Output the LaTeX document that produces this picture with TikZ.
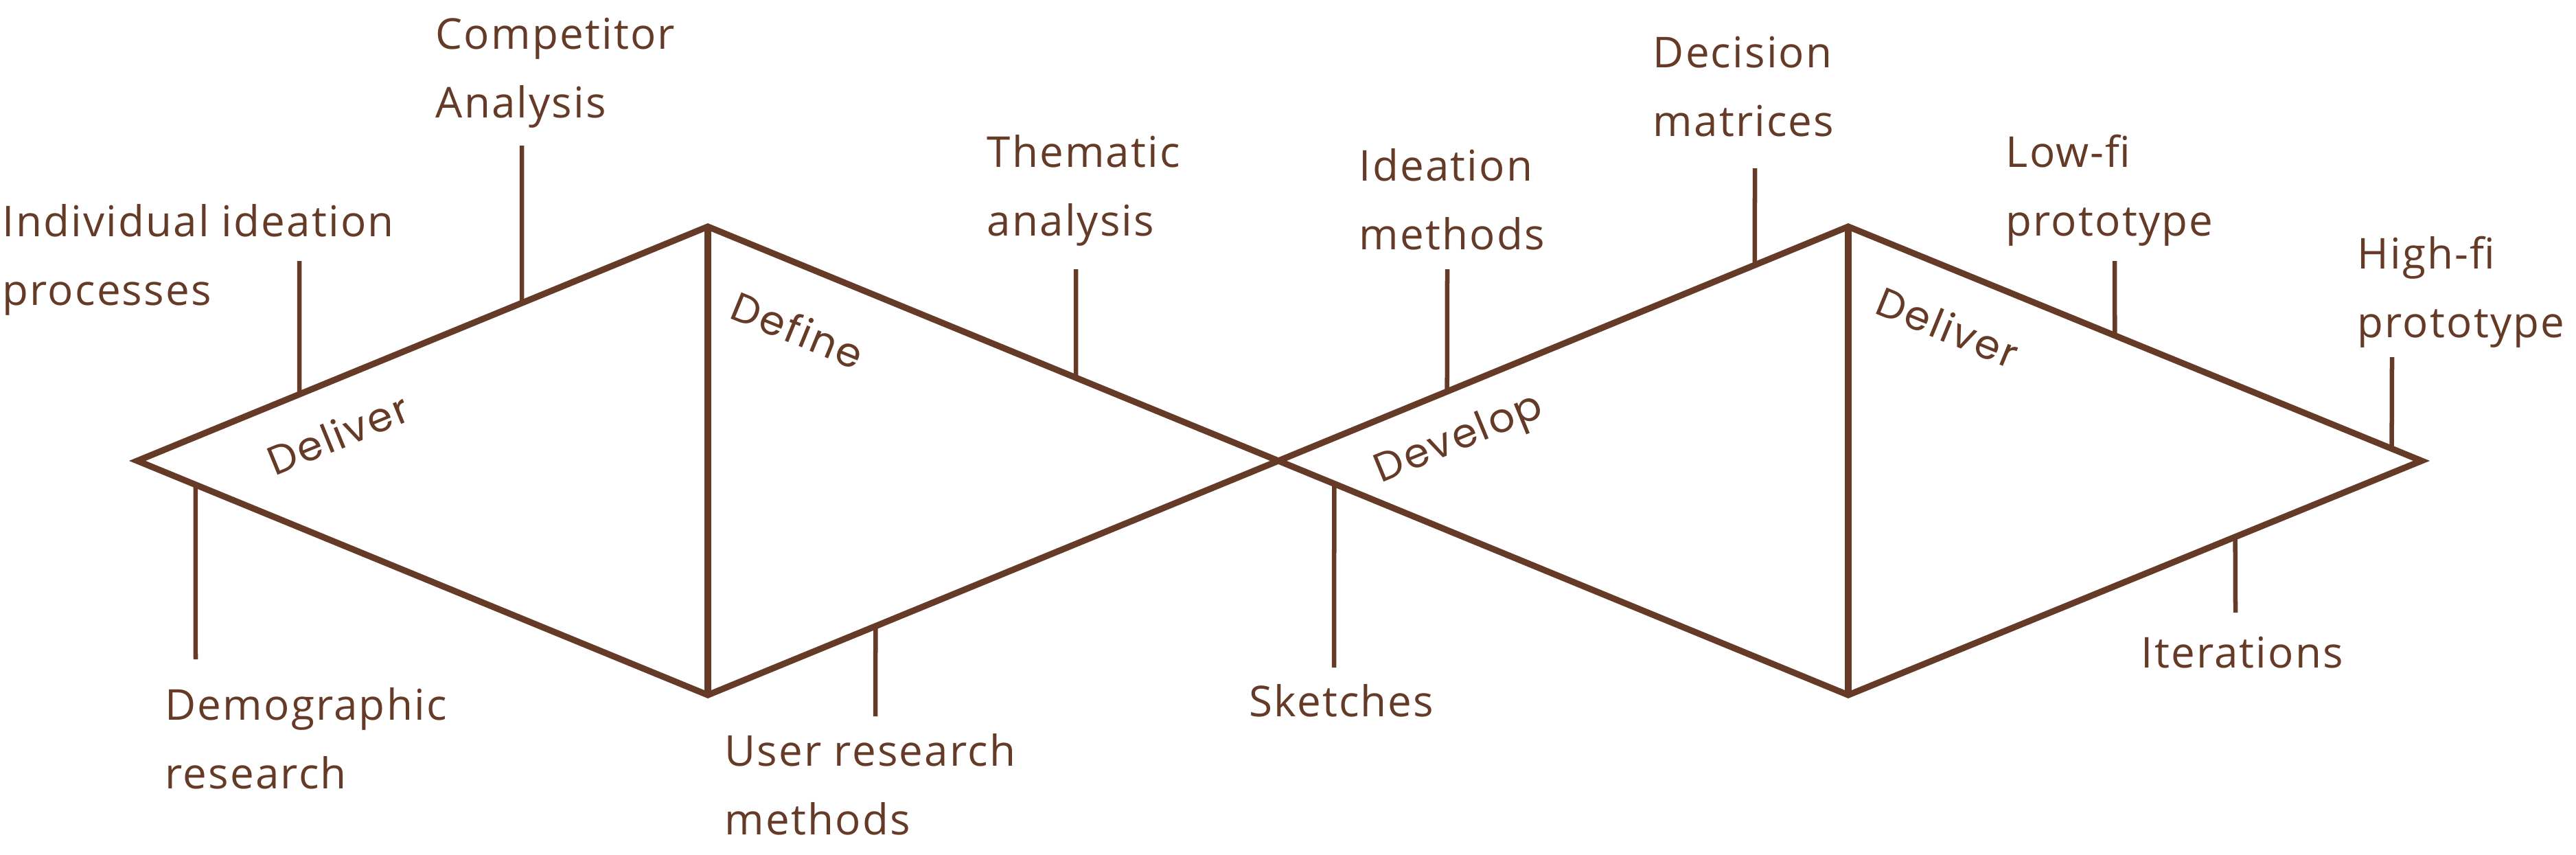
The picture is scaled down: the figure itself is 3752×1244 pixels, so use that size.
\documentclass[tikz,border=0pt]{standalone}
\usepackage{fontspec}
\setmainfont[LetterSpace=3.5]{Open Sans}
\newfontfamily\phasefont[LetterSpace=5]{Poppins}
\usetikzlibrary{calc}
\definecolor{brn}{RGB}{101,59,39}
\newcommand\twolines[2]{\begin{tabular}[t]{@{}l@{}}#1\\#2\end{tabular}}
\begin{document}
\begin{tikzpicture}[x=0.01cm,y=-0.01cm,
  edge/.style={draw=brn,line width=2.6pt,line join=miter},
  divider/.style={draw=brn,line width=2.85pt},
  callout/.style={draw=brn,line width=1.85pt},
  lbl/.style={anchor=base west,inner sep=0pt,text=brn,font=\fontsize{17.6}{28.45}\selectfont},
  phase/.style={inner sep=0pt,text=brn,font=\phasefont\fontsize{16.8}{20}\selectfont}]
\useasboundingbox[fill=white] (0,0) rectangle (3752,1244);
% diamond vertices
\coordinate (L)  at (200,671);
\coordinate (T1) at (1031,330);
\coordinate (B1) at (1031,1012);
\coordinate (C)  at (1862,671);
\coordinate (T2) at (2692,330);
\coordinate (B2) at (2692,1012);
\coordinate (R)  at (3527,671);
\draw[edge] (L)--(T1)--(C)--(T2)--(R)--(B2)--(C)--(B1)--cycle;
\draw[divider] (T1)--(B1);
\draw[divider] (T2)--(B2);
% phase labels
\node[phase,rotate=22.3]  (ph1) at (492,632)  {Deliver};
\node[phase,rotate=-22.3] (ph2) at (1162,480) {Define};
\node[phase,rotate=22.3]  (ph3) at (2126,641) {Develop};
\node[phase,rotate=-22.3] (ph4) at (2837,476) {Deliver};
% text labels
\node[lbl] (ind)    at (3,344)     {\twolines{Individual ideation}{processes}};
\node[lbl] (comp)   at (634,71)    {\twolines{Competitor}{Analysis}};
\node[lbl] (demo)   at (240,1048)  {\twolines{Demographic}{research}};
\node[lbl] (user)   at (1055,1115) {\twolines{User research}{methods}};
\node[lbl] (them)   at (1437,243)  {\twolines{Thematic}{analysis}};
\node[lbl] (idea)   at (1979,263)  {\twolines{Ideation}{methods}};
\node[lbl] (deci)   at (2407,98)   {\twolines{Decision}{matrices}};
\node[lbl] (lowfi)  at (2921,243)  {\twolines{Low-fi}{prototype}};
\node[lbl] (highfi) at (3433,391)  {\twolines{High-fi}{prototype}};
\node[lbl] (sketch) at (1819,1043) {Sketches};
\node[lbl] (iter)   at (3118,972)  {Iterations};
% callout anchor points on the edges
\coordinate (e1)  at ($(L)!0.284!(T1)$);
\coordinate (e2)  at ($(L)!0.674!(T1)$);
\coordinate (e3)  at ($(L)!0.102!(B1)$);
\coordinate (e4)  at ($(B1)!0.294!(C)$);
\coordinate (e5)  at ($(T1)!0.645!(C)$);
\coordinate (e6)  at ($(C)!0.296!(T2)$);
\coordinate (e7)  at ($(C)!0.836!(T2)$);
\coordinate (e8)  at ($(C)!0.098!(B2)$);
\coordinate (e9)  at ($(T2)!0.465!(R)$);
\coordinate (e10) at ($(T2)!0.948!(R)$);
\coordinate (e11) at ($(B2)!0.675!(R)$);
% callout free ends
\coordinate (t1)  at (436,380);
\coordinate (t2)  at (760,212);
\coordinate (t3)  at (285,960);
\coordinate (t4)  at (1275,1043);
\coordinate (t5)  at (1567,392);
\coordinate (t6)  at (2108,392);
\coordinate (t7)  at (2556,245);
\coordinate (t8)  at (1943,972);
\coordinate (t9)  at (3080,380);
\coordinate (t10) at (3484,520);
\coordinate (t11) at (3256,892);
\foreach \i in {1,...,11}{\draw[callout] (e\i) -- (t\i);}
\end{tikzpicture}
\end{document}
